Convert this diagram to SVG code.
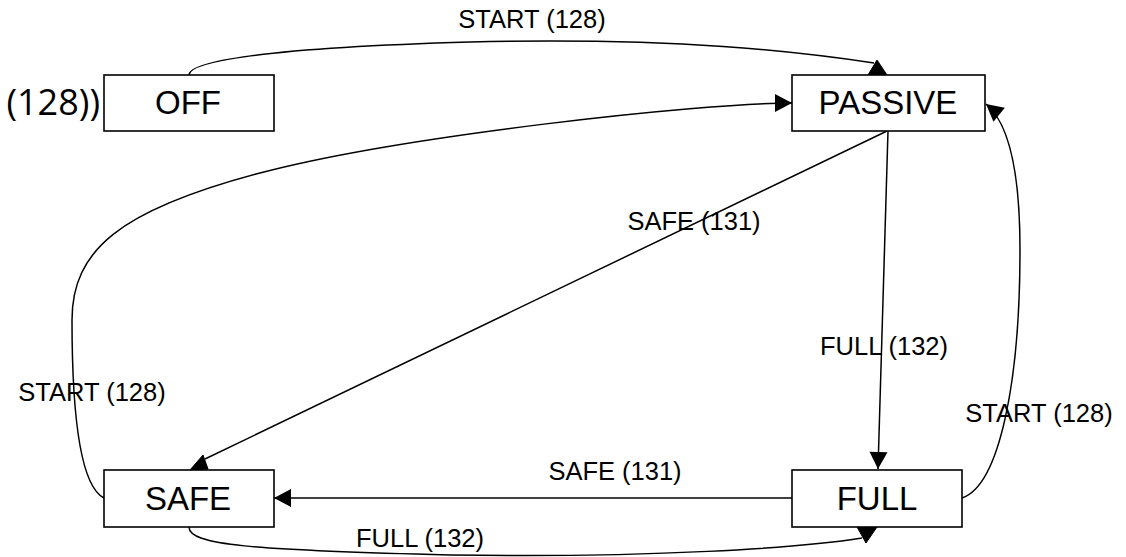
<svg xmlns="http://www.w3.org/2000/svg" width="1126" height="557" viewBox="0 0 1126 557">
<style>
.box{fill:#fff;stroke:#000;stroke-width:1.6}
.nt{font-family:"Liberation Sans",Arial,sans-serif;font-size:33px;fill:#000;text-anchor:middle}
.lb{font-family:"Liberation Sans",Arial,sans-serif;font-size:25.5px;fill:#000;text-anchor:middle}
.ed{fill:none;stroke:#000;stroke-width:1.5}
.hd{fill:#000;stroke:#000;stroke-width:1}
</style>
<defs>
<marker id="arr" viewBox="-18 -10 20 20" refX="0" refY="0" markerWidth="20" markerHeight="20" markerUnits="userSpaceOnUse" orient="auto">
<path d="M0,0 L-17,-9 L-17,9 Z" fill="#000"/>
</marker>
</defs>
<rect width="1126" height="557" fill="#fff"/>
<text x="100" y="115" font-family="'Open Sans','Noto Sans',sans-serif" font-size="36" text-anchor="end" fill="#000">(128))</text>
<g id="connectors">
<path class="ed" d="M189,75 C189,62 260,48 470,42 C680,37 800,52 874,63"/>
<polygon class="hd" points="868,75 887,75 877,60"/>
<path class="ed" d="M104,498 C88,490 72,450 72,320 C72,250 120,210 260,173 C400,136 700,103 792,103" marker-end="url(#arr)"/>
<path class="ed" d="M887,131 L205,459"/>
<polygon class="hd" points="190,470 208,469 203,455"/>
<path class="ed" d="M888,131 L878,469" marker-end="url(#arr)"/>
<path class="ed" d="M792,498 L274,498" marker-end="url(#arr)"/>
<path class="ed" d="M962,498 C1000,485 1020,380 1020,250 C1020,170 1008,122 986,104" marker-end="url(#arr)"/>
<path class="ed" d="M189,527 C189,545 250,550 450,555 C650,558 800,548 862,538"/>
<polygon class="hd" points="857,527 877,527 866,543"/>
<text class="lb" x="532" y="28">START (128)</text>
<text class="lb" x="92" y="401">START (128)</text>
<text class="lb" x="420" y="547">FULL (132)</text>
<text class="lb" x="615" y="480">SAFE (131)</text>
<text class="lb" x="694" y="230">SAFE (131)</text>
<text class="lb" x="884" y="355">FULL (132)</text>
<text class="lb" x="1039" y="422">START (128)</text>
</g>
<g id="node-off">
<rect class="box" x="104" y="75" width="170" height="56"/>
<text class="nt" x="188" y="114">OFF</text>
</g>
<g id="node-passive">
<rect class="box" x="792" y="75" width="193" height="56"/>
<text class="nt" x="888" y="114">PASSIVE</text>
</g>
<g id="node-safe">
<rect class="box" x="104" y="470" width="170" height="57"/>
<text class="nt" x="188" y="510">SAFE</text>
</g>
<g id="node-full">
<rect class="box" x="792" y="470" width="170" height="57"/>
<text class="nt" x="877" y="510">FULL</text>
</g>
</svg>
